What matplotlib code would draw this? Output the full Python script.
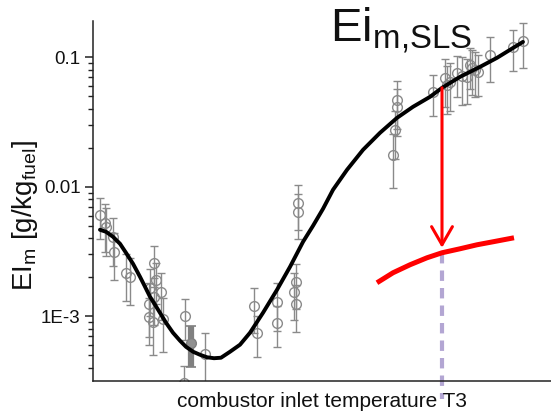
import matplotlib
matplotlib.use('Agg')
import matplotlib.pyplot as plt
import numpy as np
from matplotlib.ticker import FixedLocator, FixedFormatter, LogLocator, NullFormatter

plt.rcParams['font.family'] = ['Liberation Sans', 'DejaVu Sans']
plt.rcParams['mathtext.fontset'] = 'custom'
plt.rcParams['mathtext.rm'] = 'Liberation Sans'
plt.rcParams['mathtext.it'] = 'Liberation Sans:italic'
plt.rcParams['mathtext.bf'] = 'Liberation Sans:bold'

# ---------------- data ----------------
meas_T = [407.6, 413.1, 414.2, 421.8, 422.9, 436.0, 440.4, 466.6, 462.2, 468.8,
          474.2, 466.6, 461.1, 461.1, 465.5, 476.4, 500.4, 522.3, 499.3,
          575.8, 579.0, 600.9, 600.9, 621.6, 619.4, 621.6, 623.8, 623.8,
          731.9, 731.9, 729.7, 727.5, 771.2, 784.3, 786.5, 789.7, 797.4,
          802.8, 808.3, 811.6, 813.8, 817.0, 820.3, 833.4, 858.5, 869.4]
meas_EI = [0.00608, 0.00527, 0.00491, 0.00411, 0.00315, 0.00217, 0.00202, 0.00259, 0.00166, 0.00191,
           0.00155, 0.00142, 0.00125, 0.000991, 0.000908, 0.000957, 0.00101, 0.000513, 0.000306,
           0.00120, 0.000746, 0.00129, 0.000891, 0.00185, 0.00155, 0.00125, 0.00752, 0.00641,
           0.0470, 0.0410, 0.0275, 0.0177, 0.0542, 0.0695, 0.0613, 0.0647, 0.0759,
           0.0719, 0.0707, 0.0875, 0.0830, 0.0801, 0.0773, 0.1045, 0.1205, 0.134]
meas_relerr = [0.35, 0.4, 0.4, 0.4, 0.4, 0.4, 0.4, 0.35, 0.4, 0.35,
               0.4, 0.4, 0.45, 0.4, 0.45, 0.45, 0.35, 0.45, 0.35,
               0.38, 0.35, 0.4, 0.35, 0.38, 0.4, 0.4, 0.38, 0.38,
               0.4, 0.4, 0.4, 0.45, 0.35, 0.4, 0.4, 0.4, 0.35,
               0.4, 0.38, 0.35, 0.38, 0.38, 0.35, 0.38, 0.35, 0.38]

ref_T = [507.0]
ref_EI = [0.000624]
ref_relerr = [0.35]

fit_T = [407.6, 414.2, 421.8, 429.5, 436.0, 443.7, 451.3, 456.8, 462.2, 467.7,
         473.1, 479.7, 487.3, 495.0, 501.5, 509.2, 516.8, 524.5, 532.1, 539.7,
         549.6, 560.5, 571.4, 585.6, 600.9, 615.1, 629.3, 640.2, 651.1, 662.0,
         677.3, 694.8, 713.3, 731.9, 749.3, 767.9, 781.0, 800.7, 822.5, 841.0,
         855.2, 869.4]
fit_EI = [0.004656, 0.004493, 0.004111, 0.003629, 0.003093, 0.002543, 0.002018, 0.001690, 0.001415, 0.001227,
          0.001064, 0.000891, 0.000746, 0.000647, 0.000581, 0.000532, 0.000504, 0.000482, 0.000474, 0.000478,
          0.000532, 0.000603, 0.000746, 0.001064, 0.001602, 0.002411, 0.003761, 0.005000, 0.006761, 0.009480,
          0.01353, 0.01931, 0.02612, 0.03410, 0.04148, 0.04955, 0.05813, 0.07070, 0.08445, 0.09911,
          0.1143, 0.1317]

sls_T = [710.0, 727.5, 746.1, 764.6, 781.0, 800.7, 819.2, 836.7, 859.6]
sls_EI = [0.001814, 0.002167, 0.002499, 0.002829, 0.003093, 0.003321, 0.003565, 0.003761, 0.004038]

T3 = 781.0
arrow_from_EI = 0.05813
arrow_to_EI = 0.003381
dash_bottom_EI = 2.3e-4

ytick_vals = [1e-3, 1e-2, 1e-1]
ytick_labels = ['1E-3', '0.01', '0.1']

# ---------------- figure ----------------
fig = plt.figure(figsize=(5.51, 4.18), dpi=100)
ax = fig.add_axes([0.1688, 0.0885, 0.8312, 0.8613])
ax.set_yscale('log')
ax.set_xlim(400, 900)
ax.set_ylim(3.16e-4, 0.191)

grey = '#8a8a8a'
mT = np.array(meas_T); mE = np.array(meas_EI); mr = np.array(meas_relerr)
ax.errorbar(mT, mE, yerr=mr * mE, fmt='o', mfc='none', mec=grey, ms=7, mew=1,
            ecolor=grey, elinewidth=1, capsize=3, capthick=1, zorder=2)
ax.errorbar(ref_T, ref_EI, yerr=np.array(ref_relerr) * np.array(ref_EI), fmt='o',
            mfc='#909090', mec='#808080', ms=7, ecolor='#808080', elinewidth=4.5,
            capsize=3.5, capthick=1.2, zorder=2)

ax.plot(fit_T, fit_EI, color='black', lw=2.8, solid_capstyle='round',
        solid_joinstyle='round', zorder=3)

ax.plot([T3, T3], [sls_EI[4], dash_bottom_EI], color='#b3a6d3', lw=3,
        dashes=(2.5, 1.7), clip_on=False, zorder=1)

ax.plot(sls_T, sls_EI, color='#ff0000', lw=3.6, solid_capstyle='butt',
        solid_joinstyle='round', zorder=4)

ax.annotate('', xy=(T3, arrow_to_EI), xytext=(T3, arrow_from_EI),
            arrowprops=dict(arrowstyle='->,head_length=1.3,head_width=0.75',
                            color='#ff0000', lw=2.2, shrinkA=0, shrinkB=0),
            zorder=5)

# axes styling
for s in ['top', 'right']:
    ax.spines[s].set_visible(False)
for s in ['left', 'bottom']:
    ax.spines[s].set_color('#222222')
    ax.spines[s].set_linewidth(1.1)

ax.yaxis.set_major_locator(FixedLocator(ytick_vals))
ax.yaxis.set_major_formatter(FixedFormatter(ytick_labels))
ax.yaxis.set_minor_locator(LogLocator(base=10, subs=np.arange(2, 10)))
ax.yaxis.set_minor_formatter(NullFormatter())
ax.tick_params(axis='y', which='major', direction='out', length=6, width=1.1,
               labelsize=13.5, pad=3, colors='#222222')
ax.tick_params(axis='y', which='minor', direction='out', length=3.5, width=1,
               colors='#222222')
ax.tick_params(axis='y', labelcolor='#111111')
ax.set_xticks([])

ax.set_xlabel('combustor inlet temperature T3', fontsize=15, labelpad=8, color='#111111')
ax.set_ylabel(r'EI$_{\mathrm{m}}$ [g/kg$_{\mathrm{fuel}}$]', fontsize=20, color='#111111')
ax.yaxis.set_label_coords(-0.116, 0.46)

fig.text(330 / 551, 1 - 42 / 418, r'Ei$_{\mathrm{m{,}SLS}}$', fontsize=34,
         va='baseline', ha='left', color='#111111')

fig.savefig('out.png', dpi=100)
